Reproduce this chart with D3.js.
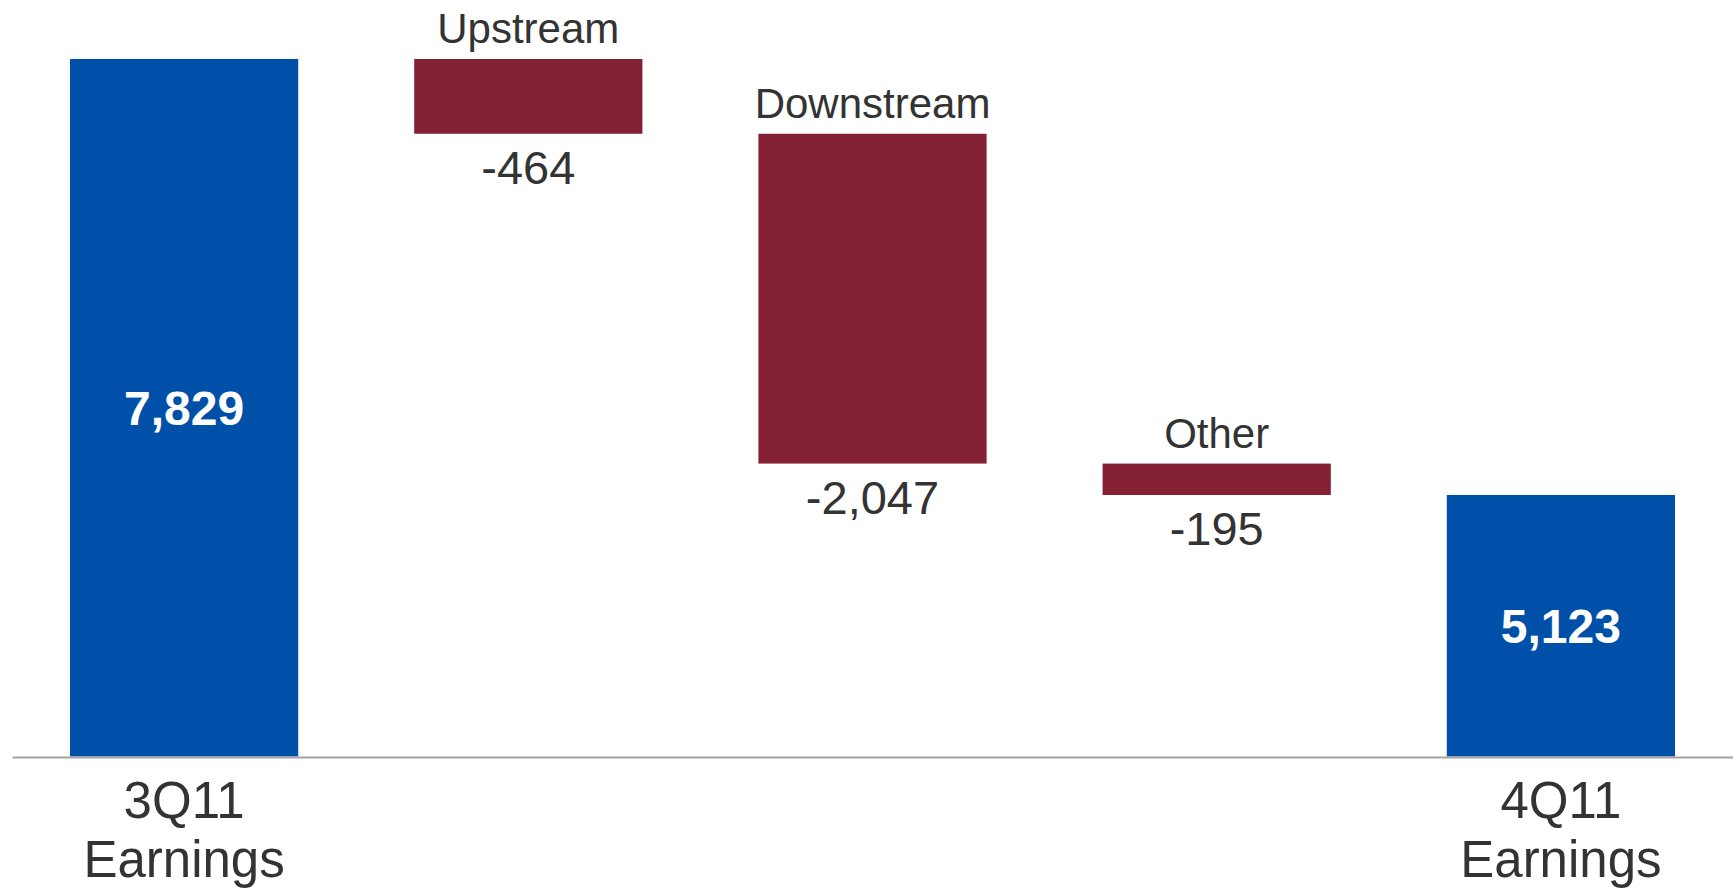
<!DOCTYPE html>
<html>
<head>
<meta charset="utf-8">
<script src="https://cdn.jsdelivr.net/npm/d3@7"></script>
<style>
  html, body { margin: 0; padding: 0; background: #ffffff; }
  svg { display: block; }
  text { font-family: "Liberation Sans", Arial, Helvetica, sans-serif; }
</style>
</head>
<body>
<svg id="chart" width="1733" height="890"></svg>
<script>
// Earnings bridge, 3Q11 to 4Q11 (millions)
const categories = ["3Q11 Earnings", "Upstream", "Downstream", "Other", "4Q11 Earnings"];
const values = [7829, -464, -2047, -195, 5123];
const kinds = ["total", "delta", "delta", "delta", "total"];
const valueLabels = ["7,829", "-464", "-2,047", "-195", "5,123"];
const axisFloor = 3500; // value axis is truncated below this level

const width = 1733, height = 890;
const baseY = 757;
const svg = d3.select("#chart");

// running start/end for each step
let running = 0;
const steps = categories.map((c, i) => {
  let start, end;
  if (kinds[i] === "total") { start = axisFloor; end = values[i]; running = values[i]; }
  else { start = running; end = running + values[i]; running = end; }
  return { cat: c, kind: kinds[i], value: values[i], label: valueLabels[i],
           lo: Math.min(start, end), hi: Math.max(start, end) };
});

const x = d3.scaleBand().domain(categories).range([12, 1733])
  .paddingInner(0.337).paddingOuter(0.1685);
const y = d3.scaleLinear().domain([axisFloor, 7829]).range([baseY - 0.5, 59]);

const colors = { total: "#0050a9", delta: "#842034" };

svg.selectAll("rect.bar").data(steps).enter().append("rect")
  .attr("class", "bar")
  .attr("x", d => x(d.cat))
  .attr("width", x.bandwidth())
  .attr("y", d => y(d.hi))
  .attr("height", d => y(d.lo) - y(d.hi))
  .attr("fill", d => colors[d.kind]);

// baseline
const axis = d3.axisBottom(x).tickSize(0).tickFormat("");
const gAxis = svg.append("g").attr("transform", `translate(0,${baseY})`).call(axis);
gAxis.select(".domain").attr("stroke", "#a3a3a3").attr("stroke-width", 2);

const cx = d => x(d.cat) + x.bandwidth() / 2;

// totals: bold white value inside the bar, two-line name under the axis
const totals = steps.filter(d => d.kind === "total");
svg.selectAll("text.tv").data(totals).enter().append("text")
  .attr("class", "tv")
  .attr("x", cx)
  .attr("y", d => (y(d.hi) + y(d.lo)) / 2 + 17)
  .attr("text-anchor", "middle")
  .attr("font-size", 48).attr("font-weight", "bold").attr("fill", "#ffffff")
  .text(d => d.label);

const names = svg.selectAll("text.tn").data(totals).enter().append("text")
  .attr("class", "tn")
  .attr("text-anchor", "middle")
  .attr("font-size", 51).attr("fill", "#333333");
names.each(function(d) {
  const parts = d.cat.split(" ");
  const t = d3.select(this);
  parts.forEach((p, k) => {
    t.append("tspan").attr("x", cx(d)).attr("y", 818 + k * 59).text(p);
  });
});

// deltas: name above the bar, value below
const deltas = steps.filter(d => d.kind === "delta");
svg.selectAll("text.dn").data(deltas).enter().append("text")
  .attr("class", "dn")
  .attr("x", cx)
  .attr("y", d => y(d.hi) - 16)
  .attr("text-anchor", "middle")
  .attr("font-size", 42).attr("fill", "#333333")
  .text(d => d.cat);

svg.selectAll("text.dv").data(deltas).enter().append("text")
  .attr("class", "dv")
  .attr("x", cx)
  .attr("y", d => y(d.lo) + 50)
  .attr("text-anchor", "middle")
  .attr("font-size", 47).attr("fill", "#333333")
  .text(d => d.label);
</script>
</body>
</html>
